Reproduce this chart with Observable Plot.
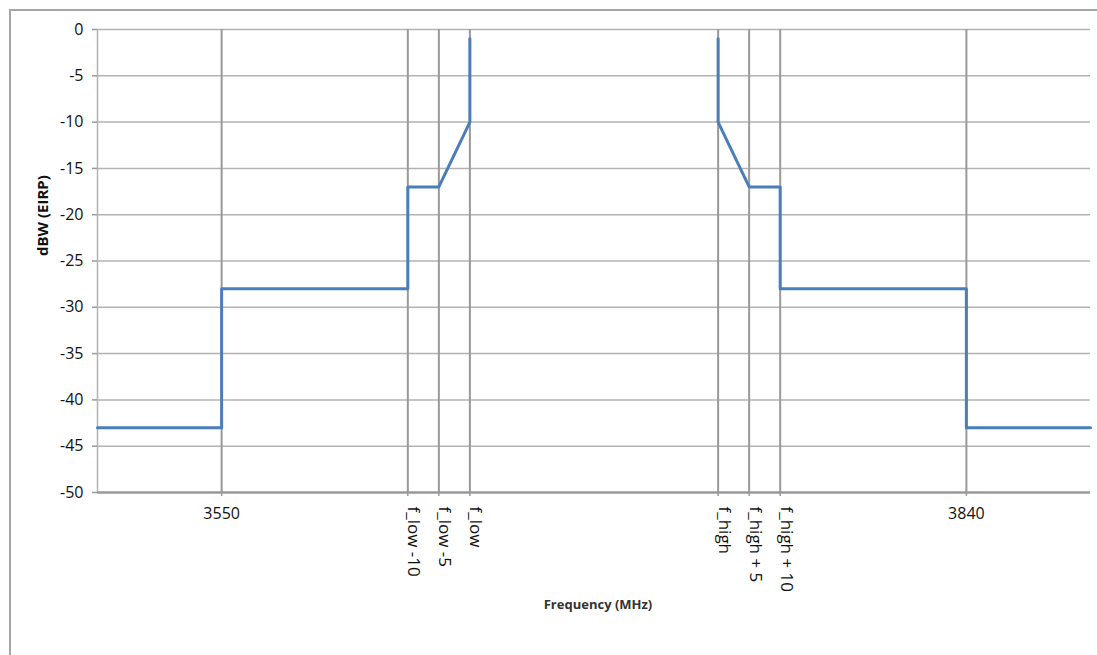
<!DOCTYPE html>
<html><head><meta charset="utf-8">
<script src="https://cdn.jsdelivr.net/npm/d3@7"></script>
<script src="https://cdn.jsdelivr.net/npm/@observablehq/plot@0.6"></script>
<style>
html,body{margin:0;padding:0;background:#fff;}
#wrap{position:relative;width:1097px;height:655px;overflow:hidden;}
#wrap svg{position:absolute;left:0;top:0;}
#border{position:absolute;left:9px;top:9px;right:-5px;bottom:-5px;border-left:2px solid #a6a6a6;border-top:2px solid #a6a6a6;pointer-events:none;}
</style></head><body><div id="wrap"></div>
<script>
// Category positions along the frequency axis (one unit = one label step)
const tickPos = [4, 10, 11, 12, 20, 21, 22, 28];
const tickLabels = ["3550", "f_low -10", "f_low -5", "f_low", "f_high", "f_high + 5", "f_high + 10", "3840"];
const tickRotated = [false, true, true, true, true, true, true, false];
const xDomain = [0, 32];
const yTicks = [0, -5, -10, -15, -20, -25, -30, -35, -40, -45, -50];

// Mask (dBW EIRP) below the band
const lowX = [0, 4, 4, 10, 10, 11, 12, 12];
const lowY = [-43, -43, -28, -28, -17, -17, -10, -1];
// Mask above the band
const highX = [20, 20, 21, 22, 22, 28, 28, 32];
const highY = [-1, -10, -17, -17, -28, -28, -43, -43];

const lowData = lowX.map((x, i) => ({x, y: lowY[i]}));
const highData = highX.map((x, i) => ({x, y: highY[i]}));
const ticks = tickPos.map((x, i) => ({x, label: tickLabels[i], rot: tickRotated[i]}));

const font = "'Open Sans', 'DejaVu Sans', sans-serif";

const chart = Plot.plot({
  width: 1097,
  height: 655,
  marginLeft: 97,
  marginRight: 7,
  marginTop: 29,
  marginBottom: 163,
  style: {fontFamily: font, fontSize: "16px", color: "#111", background: "transparent"},
  x: {domain: xDomain, axis: null},
  y: {domain: [-50, 0], axis: null},
  marks: [
    Plot.ruleY(yTicks.filter(d => d > -50), {stroke: "#b3b3b3", strokeWidth: 1.5}),
    Plot.ruleX([xDomain[0]], {stroke: "#b3b3b3", strokeWidth: 1.5}),
    Plot.ruleX(tickPos, {y1: -50, y2: 0, stroke: "#999", strokeWidth: 2}),
    Plot.axisY({ticks: yTicks, tickSize: 5, tickPadding: 9, stroke: "#999", strokeWidth: 1.5,
      fontSize: 16, fill: "#111", label: null, tickFormat: d => String(d)}),
    Plot.axisX({ticks: tickPos, tickSize: 4, tickFormat: () => "", stroke: "#999", strokeWidth: 1.5, label: null}),
    Plot.ruleY([-50], {stroke: "#999", strokeWidth: 2.5}),
    Plot.line(lowData, {x: "x", y: "y", stroke: "#4a7ebb", strokeWidth: 3}),
    Plot.line(highData, {x: "x", y: "y", stroke: "#4a7ebb", strokeWidth: 3}),
    Plot.text(ticks.filter(d => !d.rot), {x: "x", text: "label", frameAnchor: "bottom", dy: 26, fontSize: 16, fill: "#111"}),
    Plot.text(ticks.filter(d => d.rot), {x: "x", text: "label", frameAnchor: "bottom", rotate: 90,
      textAnchor: "start", lineAnchor: "middle", dx: 6, dy: 14, fontSize: 17, fill: "#111"}),
    Plot.text(["dBW (EIRP)"], {frameAnchor: "left", rotate: -90, dx: -54, dy: -5,
      fontWeight: "bold", fontSize: 15, fill: "#111"}),
    Plot.text(["Frequency (MHz)"], {frameAnchor: "bottom", dx: 4, dy: 116,
      fontWeight: "bold", fontSize: 13, fill: "#333"})
  ]
});
const wrap = document.getElementById("wrap");
wrap.appendChild(chart);
const b = document.createElement("div");
b.id = "border";
wrap.appendChild(b);
</script>
</body></html>
